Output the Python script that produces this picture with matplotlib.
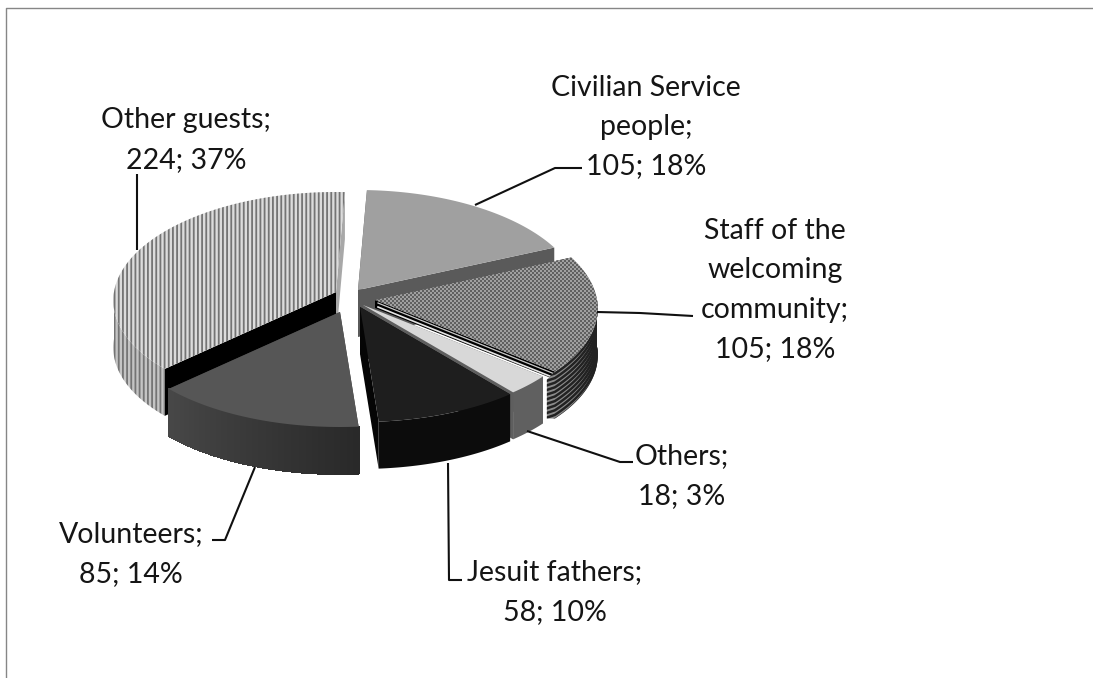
import numpy as np
import matplotlib
matplotlib.use("Agg")
import matplotlib.pyplot as plt
from matplotlib.patches import Polygon

plt.rcParams['font.family'] = ['Lato', 'DejaVu Sans']
plt.rcParams['hatch.linewidth'] = 1.3

# data
names = ['Civilian Service\npeople', 'Staff of the\nwelcoming\ncommunity', 'Others',
         'Jesuit fathers', 'Volunteers', 'Other guests']
counts = [105, 105, 18, 58, 85, 224]
percents = [18, 18, 3, 10, 14, 37]

# look of the pie: where each slice's tip sits after exploding, and its greys
tips = [(358, 290), (375, 300), (363, 305), (360, 307), (340, 312), (336, 292)]
top_col = ['#a0a0a0', '#808080', '#d8d8d8', '#1e1e1e', '#565656', '#dcdcdc']
side_col = ['#5a5a5a', '#8c8c8c', '#606060', '#0c0c0c', '#3a3a3a', '#c4c4c4']
cut_col = ['#5a5a5a', '#000000', '#5e5e5e', '#050505', '#3a3a3a', '#000000']
top_hatch = [None, None, None, None, None, '||||']
side_hatch = [None, None, None, None, None, '||||']
hatch_col = [None, None, None, None, None, '#747474']

START = 2.5
RX = 222.0
RY_MID = 107.5
RY_DIFF = 7.5
PERSP = 0.08
DEPTH = 47.0
STAFF_BAND = 8.0


def rim(t, tip):
    # point on the tilted circle for a clockwise angle from 12 o'clock
    r = np.radians(t)
    x = RX * np.sin(r) * (1 - PERSP * np.cos(r))
    y = -np.cos(r) * (RY_MID - RY_DIFF * np.cos(r))
    return np.column_stack([tip[0] + x, tip[1] + y])


fig = plt.figure(figsize=(10.93, 6.78), dpi=100)
ax = fig.add_axes([0, 0, 1, 1])
ax.set_xlim(0, 1093)
ax.set_ylim(678, 0)
ax.axis('off')

# chart frame, only top and left are visible
ax.plot([6, 6, 1093], [678, 7.5, 7.5], color='#868686', lw=1.0, zorder=1)

edges = START + np.concatenate([[0], np.cumsum(counts)]) / sum(counts) * 360
order = [0, 1, 2, 3, 5, 4]  # painted back to front

z = 2
for i in order:
    t0, t1 = edges[i], edges[i + 1]
    tip = np.array(tips[i], dtype=float)
    ts = np.linspace(t0, t1, 120)
    arc = rim(ts, tip)
    down = np.array([0, DEPTH])

    # flat cut faces
    for k, p in enumerate((arc[0], arc[-1])):
        col = cut_col[i]
        if i == 5 and k == 1:
            col = '#a8a8a8'
        face_down = np.array([0, STAFF_BAND]) if i == 1 else down
        ax.add_patch(Polygon([tip, p, p + face_down, tip + face_down], fc=col, ec='none', zorder=z))
    if i == 1:
        ax.plot([tip[0] + 3, arc[-1][0] + 1], [tip[1] + 3, arc[-1][1] + 3], color='#c8c8c8', lw=0.9, zorder=z)
        ax.plot([tip[0] + 3, arc[-1][0] + 1], [tip[1] + 7, arc[-1][1] + 7], color='#e4e4e4', lw=1.2, zorder=z)
    z += 1

    # outer wall, only the part turned towards the viewer
    lo, hi = max(t0, 90), min(t1, 270)
    if lo < hi:
        wall_ts = np.linspace(lo, hi, 100)
        wall = rim(wall_ts, tip)
        if i == 4:
            # the volunteers' wall gets lighter towards the left
            for j in range(len(wall) - 1):
                g = 0.16 + 0.12 * j / (len(wall) - 2)
                ax.add_patch(Polygon([wall[j], wall[j + 1], wall[j + 1] + down, wall[j] + down],
                                     fc=(g, g, g), ec=(g, g, g), lw=0.8, antialiased=False, zorder=z))
        elif i == 1:
            # ribbed wall of the staff slice, it runs on a little past the cut
            end = wall[-1]
            shape = np.vstack([wall, end + [-8, STAFF_BAND], end + [-8, DEPTH], wall[::-1] + down])
            patch = Polygon(shape, fc=side_col[i], ec='none', lw=0, zorder=z)
            ax.add_patch(patch)
            rib = np.vstack([wall, end + [-12, 4]])
            for d in np.arange(2, DEPTH + 4, 4.6):
                ln, = ax.plot(rib[:, 0], rib[:, 1] + d, color='#222222', lw=1.8, zorder=z)
                ln.set_clip_path(patch)
        else:
            shape = np.vstack([wall, wall[::-1] + down])
            ax.add_patch(Polygon(shape, fc=side_col[i], ec=hatch_col[i] or 'none', lw=0,
                                 hatch=side_hatch[i], zorder=z))
    z += 1

    # top face
    top = Polygon(np.vstack([tip, arc]), fc=top_col[i], ec=hatch_col[i] or 'none', lw=0,
                  hatch=top_hatch[i], zorder=z)
    ax.add_patch(top)
    if i == 1:
        # fine checker texture on the staff slice, two pixels per cell
        x0, x1 = 370, 600
        y0, y1 = 250, 376
        yy, xx = np.indices(((y1 - y0) // 2, (x1 - x0) // 2))
        checker = np.where((xx + yy) % 2 == 0, 96, 160)
        im = ax.imshow(checker, cmap='gray', vmin=0, vmax=255, extent=(x0, x1, y1, y0),
                       interpolation='none', aspect='auto', zorder=z)
        im.set_clip_path(top)
    z += 1

# imshow resets the limits
ax.set_xlim(0, 1093)
ax.set_ylim(678, 0)

# leader lines
leaders = [
    ([475, 555, 582], [205, 168, 168]),
    ([597, 640, 693], [312, 313, 316]),
    ([527, 620, 633], [431, 462, 462]),
    ([448, 449, 462], [463, 580, 580]),
    ([255, 225, 212], [467, 540, 540]),
    ([137, 137], [250, 174]),
]
for xs, ys in leaders:
    ax.plot(xs, ys, color='#101010', lw=1.5, zorder=z, solid_capstyle='butt')

# data labels
label_xy = [(646, 127), (775, 290), (682, 476), (555, 592), (131, 554), (186, 140)]
for name, n, pct, (x, y) in zip(names, counts, percents, label_xy):
    ax.text(x, y, f'{name};\n{n}; {pct}%', ha='center', va='center', fontsize=20.5,
            linespacing=1.63, color='#151515', zorder=z + 1)

fig.savefig('out.png', dpi=100, facecolor='white')
